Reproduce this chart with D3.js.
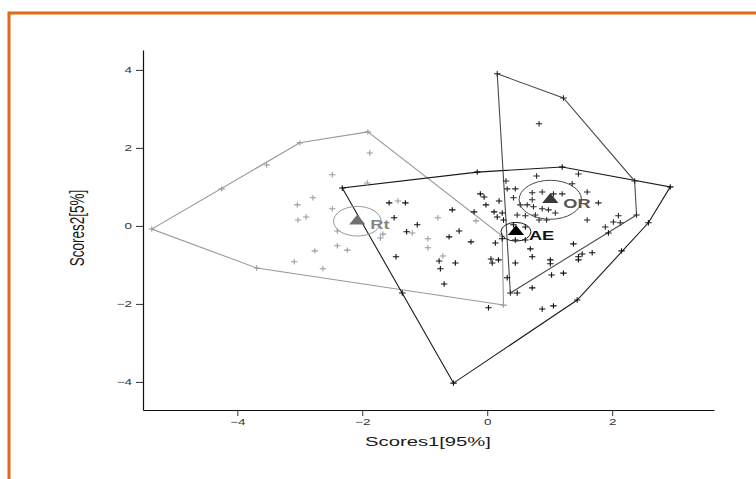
<!DOCTYPE html>
<html>
<head>
<meta charset="utf-8">
<script src="https://cdn.jsdelivr.net/npm/d3@7"></script>
<style>
  body { margin: 0; background: #fff; }
  svg { display: block; font-family: "Liberation Sans", Arial, sans-serif; }
</style>
</head>
<body>
<svg id="chart" width="756" height="479"></svg>
<script>
// ---- data (scores) ----
var groups = ["Rt", "AE", "OR"];

var rtScores = [
  [-5.37,-0.08],[-4.25,0.95],[-3.53,1.56],[-3.00,2.13],[-1.91,2.41],[0.24,-0.26],[0.26,-2.03],[-3.69,-1.08],
  [-1.88,1.87],[-2.48,1.31],[-1.92,1.10],[-2.79,0.72],[-3.04,0.54],[-2.48,0.44],[-2.90,0.23],[-3.03,0.15],
  [-2.40,-0.13],[-1.67,-0.21],[-1.71,-0.31],[-2.40,-0.51],[-2.24,-0.62],[-2.76,-0.64],[-3.09,-0.92],[-2.63,-1.10],
  [-1.43,0.64],[-0.79,0.21],[-0.18,0.13],[-1.20,-0.18],[-0.95,-0.33],[-0.95,-0.56],[-0.71,-0.77]
];

var aeScores = [
  [-2.32,0.97],[-0.16,1.38],[1.20,1.51],[2.93,1.00],[2.58,0.08],[1.44,-1.90],[-0.54,-4.03],
  [-1.36,-1.72],[2.15,-0.64],
  [-1.57,0.59],[-1.31,0.59],[-1.49,0.21],[-1.12,0.03],[-1.29,-0.15],[-1.46,-0.79],[-0.56,0.41],[-0.21,0.36],
  [-0.11,0.82],[-0.05,0.74],[-0.02,0.54],[0.11,0.36],[0.16,0.23],[0.26,0.15],[0.19,0.64],[-0.45,-0.13],
  [-0.61,-0.28],[-0.26,-0.41],[0.13,-0.44],[0.24,-0.33],[-0.77,-0.90],[-0.51,-0.95],[0.06,-0.85],[0.18,-0.87],
  [0.08,-0.95],[-0.75,-1.10],[0.32,-1.33],[0.45,-0.95],[-0.69,-1.49],[0.48,-1.72],[0.02,-2.10],[0.88,-2.13],
  [1.06,-2.05],[0.72,-1.59],[1.22,-1.21],[1.03,-1.26],[1.01,-0.87],[1.01,-0.97],[0.72,-0.79],[0.45,-0.36],
  [0.61,-0.36],[0.69,-0.59],[1.38,-0.46],[1.46,-0.79],[1.46,-0.87],[1.52,-0.72],[1.68,-0.69],[0.42,0.03],
  [0.61,-0.03],[1.94,-0.18],[0.24,0.33]
];

var orScores = [
  [0.16,3.90],[1.22,3.28],[2.36,1.15],[2.39,0.28],[0.37,-1.72],
  [0.83,2.62],[0.30,1.15],[0.79,1.28],[1.46,1.33],[1.36,1.08],[1.60,0.87],[0.32,0.95],[0.45,0.95],
  [0.72,0.85],[0.88,0.87],[1.06,0.82],[1.20,0.82],[0.42,0.72],[0.72,0.67],[0.53,0.54],[0.64,0.54],
  [0.74,0.49],[0.88,0.44],[0.98,0.41],[1.09,0.33],[1.78,0.59],[0.48,0.28],[0.61,0.26],[0.77,0.28],
  [0.83,0.15],[0.95,0.15],[1.60,0.15],[1.89,-0.03],[2.02,0.10],[2.10,0.26],[2.13,0.08]
];

// group centres and circle radius (score units)
var centroids = [[-2.08,0.12],[0.46,-0.15],[1.01,0.67]];
var radii = [0.38, 0.24, 0.5];

var xTicks = [-4, -2, 0, 2];
var yTicks = [-4, -2, 0, 2, 4];
var xTitle = "Scores1[95%]";
var yTitle = "Scores2[5%]";

// ---- styles ----
var pointColor = ["#9c9c9c", "#111", "#2a2a2a"];
var hullColor  = ["#999", "#1a1a1a", "#4a4a4a"];
var triColor   = ["#707070", "#000", "#3a3a3a"];
var labelColor = ["#858585", "#111", "#555"];
var SX = 1.5; // the figure is stretched horizontally

var svg = d3.select("#chart");

// orange frame
svg.append("path")
  .attr("d", "M9,479 V13 H756")
  .attr("fill", "none")
  .attr("stroke", "#e06a16")
  .attr("stroke-width", 3);

var x = d3.scaleLinear().domain([-5.51, 3.63]).range([143, 714]);
var y = d3.scaleLinear().domain([-4.72, 4.51]).range([410, 50]);

// axes
var xAxis = svg.append("g")
  .attr("transform", "translate(0,410)")
  .call(d3.axisBottom(x).tickValues(xTicks).tickSize(6).tickSizeOuter(0));
var yAxis = svg.append("g")
  .attr("transform", "translate(143,0)")
  .call(d3.axisLeft(y).tickValues(yTicks).tickSize(7).tickSizeOuter(0));

[xAxis, yAxis].forEach(function(a) {
  a.select(".domain").attr("stroke", "#111").attr("stroke-width", 1.2);
  a.selectAll(".tick line").attr("stroke", "#333");
  a.selectAll(".tick text")
    .attr("fill", "#333")
    .style("font-size", "9px")
    .style("font-family", "Liberation Sans, Arial, sans-serif");
});
xAxis.selectAll(".tick text").attr("y", 9).attr("transform", "scale(" + SX + ",1)");
yAxis.selectAll(".tick text").attr("x", -7.3).attr("transform", "scale(" + SX + ",1)");

svg.append("text")
  .attr("transform", "translate(428,446) scale(" + SX + ",1)")
  .attr("text-anchor", "middle")
  .style("font-size", "13.5px")
  .attr("fill", "#1a1a1a")
  .text(xTitle);

svg.append("text")
  .attr("transform", "translate(84,228) scale(" + SX + ",1) rotate(-90)")
  .attr("text-anchor", "middle")
  .style("font-size", "13.5px")
  .attr("fill", "#1a1a1a")
  .text(yTitle);

var allScores = [rtScores, aeScores, orScores];
var line = d3.line().x(function(d) { return x(d[0]); }).y(function(d) { return y(d[1]); });

// convex hulls
allScores.forEach(function(pts, i) {
  var hull = d3.polygonHull(pts);
  svg.append("path")
    .attr("d", line(hull) + "Z")
    .attr("fill", "none")
    .attr("stroke", hullColor[i])
    .attr("stroke-width", 1.1);
});

// points as "+"
allScores.forEach(function(pts, i) {
  svg.append("g")
    .selectAll("path")
    .data(pts)
    .enter()
    .append("path")
    .attr("d", "M-3.2,0H3.2M0,-2.7V2.7")
    .attr("transform", function(d) { return "translate(" + x(d[0]) + "," + y(d[1]) + ")"; })
    .attr("stroke", pointColor[i])
    .attr("stroke-width", 1.1);
});

// centre circles, triangles and labels
groups.forEach(function(g, i) {
  var c = centroids[i];
  var cx = x(c[0]), cy = y(c[1]);
  svg.append("ellipse")
    .attr("cx", cx).attr("cy", cy)
    .attr("rx", x(radii[i]) - x(0))
    .attr("ry", y(0) - y(radii[i]))
    .attr("fill", "none")
    .attr("stroke", hullColor[i])
    .attr("stroke-width", 1);
  svg.append("path")
    .attr("d", d3.symbol(d3.symbolTriangle, 58)())
    .attr("transform", "translate(" + cx + "," + cy + ") scale(1.4,1)")
    .attr("fill", triColor[i]);
  svg.append("text")
    .attr("transform", "translate(" + (cx + 13) + "," + (cy + 8) + ") scale(1.35,1)")
    .style("font-size", "13.5px")
    .style("font-weight", "bold")
    .attr("fill", labelColor[i])
    .text(g);
});
</script>
</body>
</html>
